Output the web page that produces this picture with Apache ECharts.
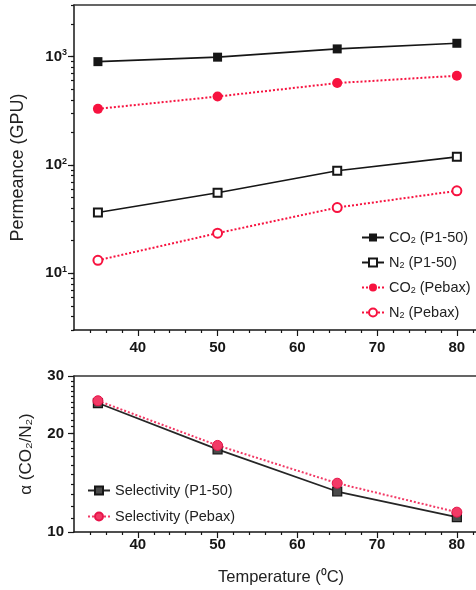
<!DOCTYPE html>
<html>
<head>
<meta charset="utf-8">
<script src="https://cdn.jsdelivr.net/npm/echarts@6/dist/echarts.min.js"></script>
<style>
  html, body { margin: 0; padding: 0; background: #fff; }
  #chart { width: 476px; height: 590px; }
</style>
</head>
<body>
<div id="chart"></div>
<script>
// temperature (°C)
const temps = [35, 50, 65, 80]
// permeance (GPU)
const co2P150 = [900, 990, 1180, 1330]
const n2P150 = [36.5, 55.5, 88.6, 119]
const co2Pebax = [330, 429, 571, 667]
const n2Pebax = [13.2, 23.5, 40.5, 57.8]
// selectivity CO2/N2
const selP150 = [24.8, 17.9, 13.3, 11.1]
const selPebax = [25.2, 18.4, 14.1, 11.5]

const xTickLabels = [40, 50, 60, 70, 80]
const topYTickLabels = [10, 100, 1000]
const bottomYTickLabels = [10, 20, 30]

const FONT = 'Liberation Sans'
const BLACK = '#161616'
const RED = '#f7123f'
const PINK = '#f23a66'

const xMin = 32, xMax = 82.4
const topMin = 3, topMax = 3000
const botMin = 10, botMax = 30

const pair = (xs, ys) => xs.map((x, i) => [x, ys[i]])

// minor tick positions
const xMinor = []
for (let v = 34; v <= 82; v += 2) if (v % 10) xMinor.push(v)
const topMinor = []
for (let d = 1; d <= 1000; d *= 10) {
  for (let k = 1; k <= 9; k++) {
    const v = k * d
    if (v >= topMin && v <= topMax) topMinor.push(Math.log10(v))
  }
}
const botMinor = []
for (let v = 11; v < 30; v++) botMinor.push(Math.log10(v))

const legendText = {
  'CO2 (P1-50)': '{t|CO}{s|2}{t| (P1-50)}',
  'N2 (P1-50)': '{t|N}{s|2}{t| (P1-50)}',
  'CO2 (Pebax)': '{t|CO}{s|2}{t| (Pebax)}',
  'N2 (Pebax)': '{t|N}{s|2}{t| (Pebax)}',
}

const chart = echarts.init(document.getElementById('chart'))

/** x axes for one grid: data axis with minor ticks, overlay with major ticks + labels, top border */
function xAxesFor(gridIndex, labelMargin) {
  return [
    {
      type: 'value', gridIndex, min: xMin, max: xMax, position: 'bottom',
      axisLine: { show: true, onZero: false, lineStyle: { color: BLACK, width: 1.5 } },
      axisTick: { show: true, customValues: xMinor, length: 3, lineStyle: { color: BLACK, width: 1.2 } },
      axisLabel: { show: false },
      splitLine: { show: false },
    },
    {
      type: 'value', gridIndex, min: xMin, max: xMax, position: 'bottom',
      axisLine: { show: false, onZero: false },
      axisTick: { show: true, customValues: xTickLabels, length: 6, lineStyle: { color: BLACK, width: 1.2 } },
      axisLabel: {
        show: true, customValues: xTickLabels, margin: labelMargin,
        fontFamily: FONT, fontWeight: 'bold', fontSize: 15, color: BLACK,
      },
      splitLine: { show: false },
    },
    {
      type: 'value', gridIndex, min: xMin, max: xMax, position: 'top',
      axisLine: { show: true, onZero: false, lineStyle: { color: '#333', width: 1.5 } },
      axisTick: { show: false },
      axisLabel: { show: false },
      splitLine: { show: false },
    },
  ]
}

const option = {
  animation: false,
  backgroundColor: '#fff',
  grid: [
    { left: 74, right: 0, top: 5, height: 325, outerBoundsMode: 'none' },
    { left: 74, right: 0, top: 376, height: 156, outerBoundsMode: 'none' },
  ],
  xAxis: [...xAxesFor(0, 10), ...xAxesFor(1, 5)],
  yAxis: [
    // top panel: log axis for data
    {
      type: 'log', gridIndex: 0, logBase: 10, min: topMin, max: topMax, position: 'left',
      name: 'Permeance (GPU)', nameLocation: 'middle', nameGap: 47,
      nameTextStyle: { fontFamily: FONT, fontSize: 18, color: '#222' },
      axisLine: { show: true, onZero: false, lineStyle: { color: BLACK, width: 1.5 } },
      axisTick: { show: false },
      axisLabel: { show: false },
      splitLine: { show: false },
    },
    // top panel: ticks in log10 space
    {
      type: 'value', gridIndex: 0, min: Math.log10(topMin), max: Math.log10(topMax), position: 'left',
      axisLine: { show: false, onZero: false },
      axisTick: { show: true, customValues: topMinor, length: 3, lineStyle: { color: BLACK, width: 1.2 } },
      axisLabel: { show: false },
      splitLine: { show: false },
    },
    {
      type: 'value', gridIndex: 0, min: Math.log10(topMin), max: Math.log10(topMax), position: 'left',
      axisLine: { show: false, onZero: false },
      axisTick: { show: true, customValues: topYTickLabels.map(Math.log10), length: 6, lineStyle: { color: BLACK, width: 1.2 } },
      axisLabel: {
        show: true, customValues: topYTickLabels.map(Math.log10), margin: 7,
        formatter: (v) => '{b|10}{s|' + Math.round(v) + '}',
        rich: {
          b: { fontFamily: FONT, fontWeight: 'bold', fontSize: 15, color: BLACK },
          s: { fontFamily: FONT, fontWeight: 'bold', fontSize: 9, color: BLACK, verticalAlign: 'bottom', padding: [0, 0, 8, 0] },
        },
      },
      splitLine: { show: false },
    },
    // bottom panel: log axis for data
    {
      type: 'log', gridIndex: 1, logBase: 10, min: botMin, max: botMax, position: 'left',
      name: 'α (CO₂/N₂)', nameLocation: 'middle', nameGap: 39,
      nameTextStyle: { fontFamily: FONT, fontSize: 17, color: '#222' },
      axisLine: { show: true, onZero: false, lineStyle: { color: BLACK, width: 1.5 } },
      axisTick: { show: false },
      axisLabel: { show: false },
      splitLine: { show: false },
    },
    {
      type: 'value', gridIndex: 1, min: Math.log10(botMin), max: Math.log10(botMax), position: 'left',
      axisLine: { show: false, onZero: false },
      axisTick: { show: true, customValues: botMinor, length: 3, lineStyle: { color: BLACK, width: 1.2 } },
      axisLabel: { show: false },
      splitLine: { show: false },
    },
    {
      type: 'value', gridIndex: 1, min: Math.log10(botMin), max: Math.log10(botMax), position: 'left',
      axisLine: { show: false, onZero: false },
      axisTick: { show: true, customValues: bottomYTickLabels.map(Math.log10), length: 6, lineStyle: { color: BLACK, width: 1.2 } },
      axisLabel: {
        show: true, customValues: bottomYTickLabels.map(Math.log10), margin: 10,
        formatter: (v) => String(Math.round(Math.pow(10, v))),
        fontFamily: FONT, fontWeight: 'bold', fontSize: 15, color: BLACK,
      },
      splitLine: { show: false },
    },
  ],
  legend: [
    {
      data: ['CO2 (P1-50)', 'N2 (P1-50)', 'CO2 (Pebax)', 'N2 (Pebax)'],
      orient: 'vertical', left: 361, top: 230, padding: 0,
      itemWidth: 22, itemHeight: 10, itemGap: 10,
      formatter: (name) => legendText[name],
      textStyle: {
        rich: {
          t: { fontFamily: FONT, fontSize: 14.5, color: '#222' },
          s: { fontFamily: FONT, fontSize: 9, color: '#222', verticalAlign: 'bottom', padding: [5, 0, 0, 0] },
        },
      },
    },
    {
      data: ['Selectivity (P1-50)', 'Selectivity (Pebax)'],
      orient: 'vertical', left: 87, top: 483, padding: 0,
      itemWidth: 22, itemHeight: 10, itemGap: 11,
      textStyle: { fontFamily: FONT, fontSize: 14.5, color: '#222' },
    },
  ],
  graphic: [
    {
      type: 'text', left: 218, top: 569,
      style: { text: 'Temperature (⁰C)', fontFamily: FONT, fontSize: 16.5, fill: '#222' },
    },
  ],
  series: [
    {
      name: 'CO2 (P1-50)', type: 'line', xAxisIndex: 0, yAxisIndex: 0,
      data: pair(temps, co2P150), symbol: 'rect', symbolSize: 9,
      itemStyle: { color: BLACK },
      lineStyle: { color: BLACK, width: 1.6 },
    },
    {
      name: 'N2 (P1-50)', type: 'line', xAxisIndex: 0, yAxisIndex: 0,
      data: pair(temps, n2P150), symbol: 'emptyRect', symbolSize: 8,
      itemStyle: { color: BLACK, borderWidth: 1.4 },
      lineStyle: { color: BLACK, width: 1.6 },
    },
    {
      name: 'CO2 (Pebax)', type: 'line', xAxisIndex: 0, yAxisIndex: 0,
      data: pair(temps, co2Pebax), symbol: 'circle', symbolSize: 10,
      itemStyle: { color: RED },
      lineStyle: { color: RED, width: 2, type: [2, 2] },
    },
    {
      name: 'N2 (Pebax)', type: 'line', xAxisIndex: 0, yAxisIndex: 0,
      data: pair(temps, n2Pebax), symbol: 'emptyCircle', symbolSize: 9,
      itemStyle: { color: RED, borderWidth: 1.8 },
      lineStyle: { color: RED, width: 2, type: [2, 2] },
    },
    {
      name: 'Selectivity (P1-50)', type: 'line', xAxisIndex: 3, yAxisIndex: 3,
      data: pair(temps, selP150), symbol: 'rect', symbolSize: 9,
      itemStyle: { color: '#4a4a4a', borderColor: BLACK, borderWidth: 1.2 },
      lineStyle: { color: '#262626', width: 1.8 },
    },
    {
      name: 'Selectivity (Pebax)', type: 'line', xAxisIndex: 3, yAxisIndex: 3,
      data: pair(temps, selPebax), symbol: 'circle', symbolSize: 10,
      itemStyle: { color: PINK, borderColor: '#e8144a', borderWidth: 1 },
      lineStyle: { color: PINK, width: 2, type: [2, 2] },
    },
  ],
}

chart.setOption(option)
</script>
</body>
</html>
